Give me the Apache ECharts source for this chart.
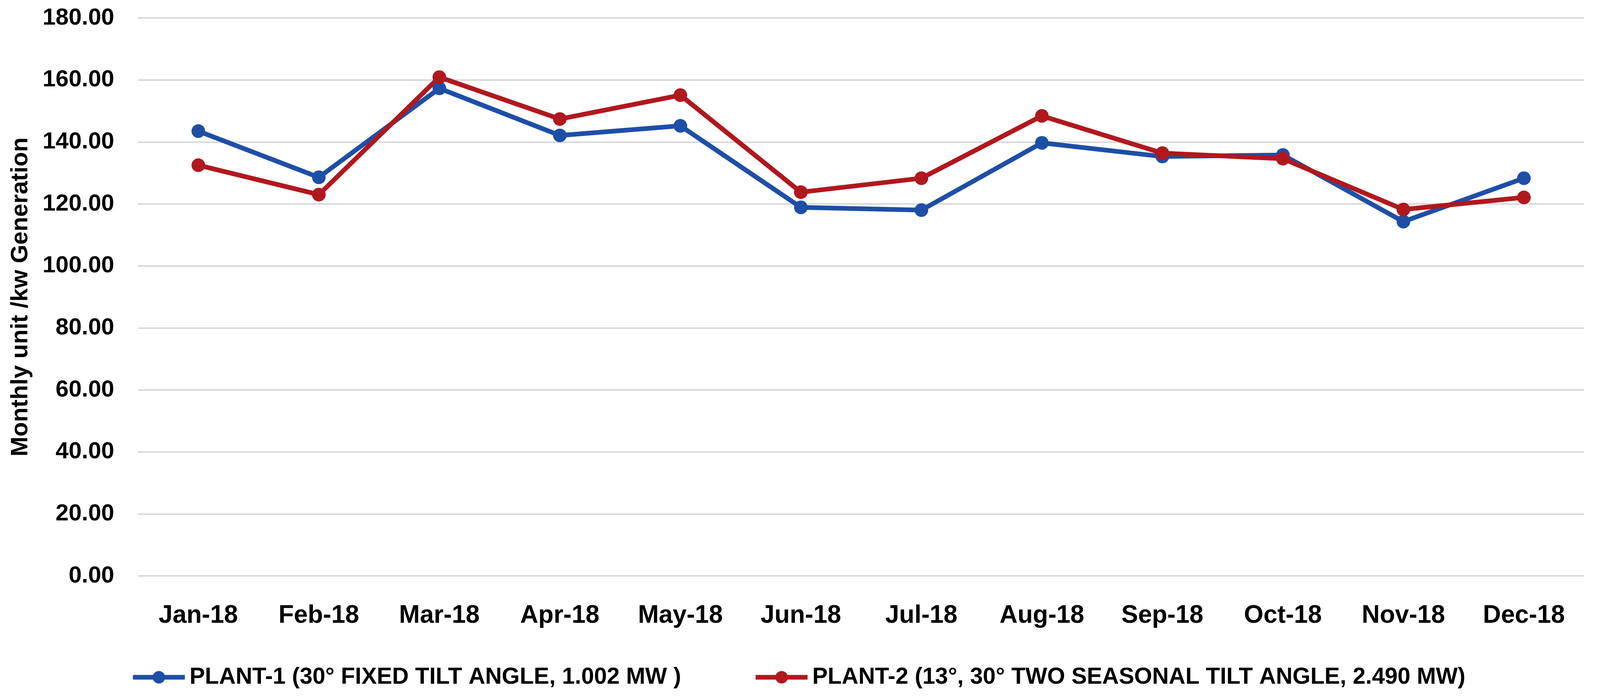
<!DOCTYPE html>
<html>
<head>
<meta charset="utf-8">
<script src="https://cdn.jsdelivr.net/npm/echarts@6/dist/echarts.min.js"></script>
<style>
html,body{margin:0;padding:0;background:#fff;overflow:hidden;}
#chart{width:100vw;height:100vh;}
</style>
</head>
<body>
<div id="chart"></div>
<script>
const categories = ['Jan-18','Feb-18','Mar-18','Apr-18','May-18','Jun-18','Jul-18','Aug-18','Sep-18','Oct-18','Nov-18','Dec-18'];
const plant1Name = 'PLANT-1 (30° FIXED TILT ANGLE, 1.002 MW )';
const plant2Name = 'PLANT-2 (13°, 30° TWO SEASONAL TILT ANGLE, 2.490 MW)';
const plant1 = [143.5, 128.6, 157.3, 142.1, 145.2, 118.9, 118.0, 139.7, 135.3, 135.8, 114.3, 128.3];
const plant2 = [132.5, 123.0, 160.9, 147.4, 155.1, 123.8, 128.3, 148.4, 136.4, 134.6, 118.2, 122.1];
const yAxisTitle = 'Monthly unit /kw Generation';

const FONT = 'Liberation Sans';
const el = document.getElementById('chart');
const chart = echarts.init(el, null, {renderer: 'canvas'});
const W = el.clientWidth;
const sx = W / 4252;
const legendCommon = {
  orient: 'horizontal',
  top: 1704,
  padding: 0,
  itemWidth: Math.round(138 * sx),
  itemHeight: 40,
  lineStyle: {width: 12},
  textStyle: {fontFamily: FONT, fontWeight: 'bold', fontSize: 59, color: '#000', padding: [0,0,0,7]}
};
chart.setOption({
  backgroundColor: '#ffffff',
  animation: false,
  grid: {left: '8.63%', right: '0.99%', top: 46, bottom: 310, containLabel: false},
  legend: [
    Object.assign({left: '8.16%', data: [plant1Name]}, legendCommon),
    Object.assign({left: '47.08%', data: [plant2Name]}, legendCommon)
  ],
  xAxis: {
    type: 'category',
    data: categories,
    boundaryGap: true,
    axisLine: {show: false},
    axisTick: {show: false},
    axisLabel: {fontFamily: FONT, fontWeight: 'bold', fontSize: 64, color: '#000', margin: 70, interval: 0}
  },
  yAxis: {
    type: 'value',
    min: 0, max: 180, interval: 20,
    name: yAxisTitle,
    nameLocation: 'middle',
    nameRotate: 90,
    nameGap: Math.round(280 * sx),
    nameTextStyle: {fontFamily: FONT, fontWeight: 'bold', fontSize: 61, color: '#000'},
    axisLine: {show: false},
    axisTick: {show: false},
    splitLine: {show: true, lineStyle: {color: '#D9D9D9', width: 4}},
    axisLabel: {fontFamily: FONT, fontWeight: 'bold', fontSize: 60, color: '#000', margin: Math.round(63 * sx),
      formatter: v => v.toFixed(2)}
  },
  series: [
    {
      name: plant1Name, type: 'line', data: plant1,
      symbol: 'circle', symbolSize: 35,
      lineStyle: {color: '#1E4FA6', width: 12},
      itemStyle: {color: '#1E4FA6'}
    },
    {
      name: plant2Name, type: 'line', data: plant2,
      symbol: 'circle', symbolSize: 35,
      lineStyle: {color: '#B0181E', width: 12},
      itemStyle: {color: '#B0181E'}
    }
  ]
});
</script>
</body>
</html>
